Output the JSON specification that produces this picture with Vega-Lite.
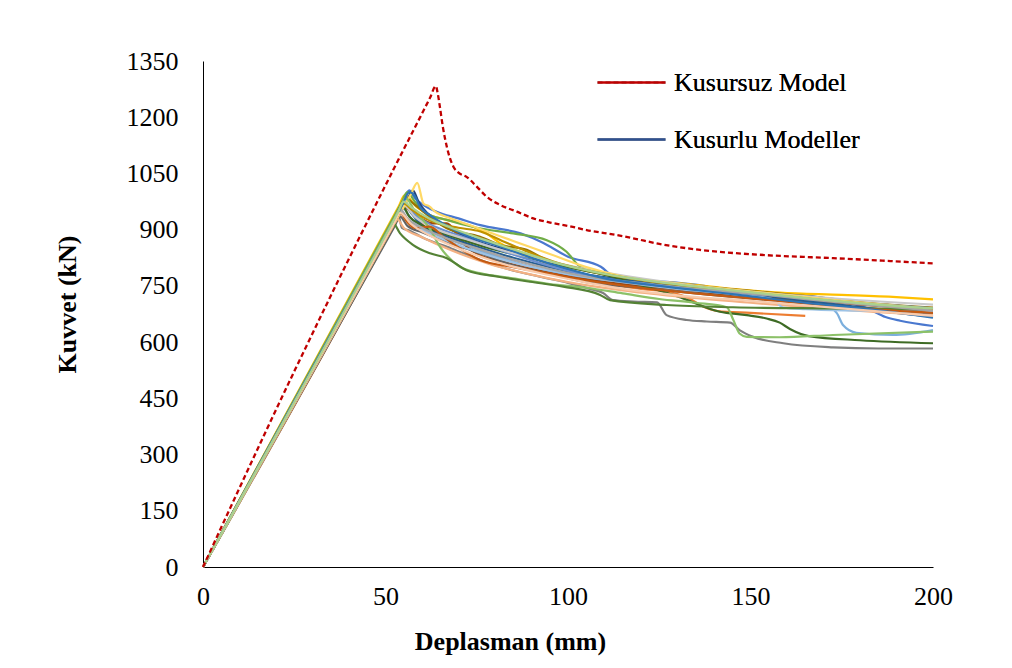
{
"$schema": "https://vega.github.io/schema/vega-lite/v6.json",
"width": 730, "height": 506,
"autosize": {"type": "none"},
"padding": {"left": 203, "top": 61, "right": 79, "bottom": 101},
"background": "white",
"config": {"view": {"stroke": null}, "font": "Liberation Serif", "legend": {"labelFont": "Liberation Serif", "labelFontSize": 26, "rowPadding": 8}},
"datasets": {
"pts": [
{"m":"K01","x":0,"y":0},{"m":"K01","x":56.5,"y":1005},{"m":"K01","x":58,"y":985},{"m":"K01","x":60,"y":968},{"m":"K01","x":64,"y":948},{"m":"K01","x":70,"y":930},{"m":"K01","x":76,"y":912},{"m":"K01","x":87,"y":890},{"m":"K01","x":93,"y":866},{"m":"K01","x":100,"y":828},{"m":"K01","x":109,"y":801},{"m":"K01","x":113,"y":772},{"m":"K01","x":120,"y":765},{"m":"K01","x":127,"y":761},{"m":"K01","x":136,"y":752},{"m":"K01","x":145,"y":735},{"m":"K01","x":155,"y":730},{"m":"K01","x":164,"y":726},{"m":"K01","x":173,"y":712},{"m":"K01","x":182,"y":690},{"m":"K01","x":187,"y":667},{"m":"K01","x":191,"y":657},{"m":"K01","x":200,"y":643},
{"m":"K02","x":0,"y":0},{"m":"K02","x":55,"y":975},{"m":"K02","x":57,"y":950},{"m":"K02","x":60,"y":915},{"m":"K02","x":66,"y":880},{"m":"K02","x":72,"y":860},{"m":"K02","x":80,"y":830},{"m":"K02","x":90,"y":800},{"m":"K02","x":100,"y":775},{"m":"K02","x":110,"y":755},{"m":"K02","x":120,"y":742},{"m":"K02","x":128,"y":733},{"m":"K02","x":133,"y":718},{"m":"K02","x":137,"y":695},{"m":"K02","x":141,"y":683},{"m":"K02","x":150,"y":678},{"m":"K02","x":165,"y":670},
{"m":"K03","x":0,"y":0},{"m":"K03","x":53.5,"y":940},{"m":"K03","x":54.5,"y":905},{"m":"K03","x":56.7,"y":897},{"m":"K03","x":60,"y":880},{"m":"K03","x":68,"y":850},{"m":"K03","x":80,"y":805},{"m":"K03","x":92,"y":775},{"m":"K03","x":100,"y":758},{"m":"K03","x":106,"y":742},{"m":"K03","x":109.6,"y":731},{"m":"K03","x":112.3,"y":712},{"m":"K03","x":118,"y":708},{"m":"K03","x":124.4,"y":706},{"m":"K03","x":127,"y":672},{"m":"K03","x":132.5,"y":659},{"m":"K03","x":138,"y":655},{"m":"K03","x":144.4,"y":652},{"m":"K03","x":147,"y":632},{"m":"K03","x":150.7,"y":614},{"m":"K03","x":159,"y":597},{"m":"K03","x":172.6,"y":586},{"m":"K03","x":185,"y":583},{"m":"K03","x":200,"y":583},
{"m":"K04","x":0,"y":0},{"m":"K04","x":55.3,"y":992},{"m":"K04","x":58.5,"y":961},{"m":"K04","x":62,"y":940},{"m":"K04","x":66.8,"y":926},{"m":"K04","x":74,"y":908},{"m":"K04","x":77.7,"y":890},{"m":"K04","x":81.4,"y":864},{"m":"K04","x":87.8,"y":837},{"m":"K04","x":94.2,"y":810},{"m":"K04","x":103.3,"y":775},{"m":"K04","x":115,"y":765},{"m":"K04","x":130.7,"y":757},{"m":"K04","x":145,"y":742},{"m":"K04","x":158,"y":732},{"m":"K04","x":175,"y":726},{"m":"K04","x":190,"y":720},{"m":"K04","x":200,"y":714},
{"m":"K05","x":0,"y":0},{"m":"K05","x":54.5,"y":960},{"m":"K05","x":57,"y":930},{"m":"K05","x":62,"y":900},{"m":"K05","x":70,"y":865},{"m":"K05","x":80,"y":830},{"m":"K05","x":90,"y":800},{"m":"K05","x":100,"y":780},{"m":"K05","x":115,"y":755},{"m":"K05","x":130,"y":740},{"m":"K05","x":145,"y":725},{"m":"K05","x":159,"y":712},{"m":"K05","x":170,"y":700},{"m":"K05","x":173.6,"y":678},{"m":"K05","x":175.4,"y":645},{"m":"K05","x":179,"y":625},{"m":"K05","x":189,"y":619},{"m":"K05","x":200,"y":632},
{"m":"K06","x":0,"y":0},{"m":"K06","x":56,"y":1000},{"m":"K06","x":58,"y":975},{"m":"K06","x":61,"y":945},{"m":"K06","x":66.8,"y":926},{"m":"K06","x":75,"y":905},{"m":"K06","x":85,"y":890},{"m":"K06","x":94.2,"y":872},{"m":"K06","x":99.6,"y":841},{"m":"K06","x":103.3,"y":801},{"m":"K06","x":108.8,"y":783},{"m":"K06","x":120,"y":765},{"m":"K06","x":135,"y":745},{"m":"K06","x":150,"y":728},{"m":"K06","x":170,"y":712},{"m":"K06","x":185,"y":700},{"m":"K06","x":200,"y":690},
{"m":"K07","x":0,"y":0},{"m":"K07","x":57.5,"y":1005},{"m":"K07","x":59,"y":975},{"m":"K07","x":63,"y":930},{"m":"K07","x":68,"y":900},{"m":"K07","x":75,"y":870},{"m":"K07","x":85,"y":840},{"m":"K07","x":95,"y":810},{"m":"K07","x":105,"y":780},{"m":"K07","x":115,"y":760},{"m":"K07","x":130,"y":745},{"m":"K07","x":145,"y":730},{"m":"K07","x":160,"y":715},{"m":"K07","x":175,"y":695},{"m":"K07","x":190,"y":678},{"m":"K07","x":200,"y":668},
{"m":"K08","x":0,"y":0},{"m":"K08","x":55,"y":960},{"m":"K08","x":57.5,"y":944},{"m":"K08","x":63,"y":917},{"m":"K08","x":66.8,"y":917},{"m":"K08","x":69.5,"y":890},{"m":"K08","x":72.2,"y":855},{"m":"K08","x":75.9,"y":832},{"m":"K08","x":82,"y":815},{"m":"K08","x":90,"y":795},{"m":"K08","x":100,"y":775},{"m":"K08","x":110,"y":760},{"m":"K08","x":125,"y":745},{"m":"K08","x":140,"y":730},{"m":"K08","x":160,"y":715},{"m":"K08","x":180,"y":700},{"m":"K08","x":200,"y":686},
{"m":"K09","x":0,"y":0},{"m":"K09","x":54,"y":935},{"m":"K09","x":56,"y":910},{"m":"K09","x":60,"y":893},{"m":"K09","x":66,"y":870},{"m":"K09","x":75,"y":840},{"m":"K09","x":85,"y":805},{"m":"K09","x":95,"y":782},{"m":"K09","x":105,"y":760},{"m":"K09","x":120,"y":745},{"m":"K09","x":140,"y":725},{"m":"K09","x":160,"y":708},{"m":"K09","x":180,"y":692},{"m":"K09","x":200,"y":680},
{"m":"K10","x":0,"y":0},{"m":"K10","x":55.5,"y":985},{"m":"K10","x":57.5,"y":971},{"m":"K10","x":62,"y":935},{"m":"K10","x":66.8,"y":904},{"m":"K10","x":75.9,"y":881},{"m":"K10","x":81.4,"y":859},{"m":"K10","x":88.7,"y":846},{"m":"K10","x":92.3,"y":828},{"m":"K10","x":98,"y":805},{"m":"K10","x":105,"y":790},{"m":"K10","x":115,"y":772},{"m":"K10","x":130,"y":755},{"m":"K10","x":150,"y":737},{"m":"K10","x":170,"y":718},{"m":"K10","x":185,"y":702},{"m":"K10","x":200,"y":692},
{"m":"K11","x":0,"y":0},{"m":"K11","x":55,"y":975},{"m":"K11","x":57,"y":945},{"m":"K11","x":60,"y":912},{"m":"K11","x":66,"y":885},{"m":"K11","x":75,"y":855},{"m":"K11","x":85,"y":825},{"m":"K11","x":95,"y":800},{"m":"K11","x":105,"y":780},{"m":"K11","x":120,"y":762},{"m":"K11","x":135,"y":745},{"m":"K11","x":150,"y":728},{"m":"K11","x":170,"y":705},{"m":"K11","x":185,"y":688},{"m":"K11","x":200,"y":675},
{"m":"K12","x":0,"y":0},{"m":"K12","x":54.5,"y":965},{"m":"K12","x":56.5,"y":935},{"m":"K12","x":60,"y":912},{"m":"K12","x":66,"y":890},{"m":"K12","x":72,"y":870},{"m":"K12","x":78,"y":852},{"m":"K12","x":84,"y":837},{"m":"K12","x":95,"y":812},{"m":"K12","x":104,"y":792},{"m":"K12","x":110,"y":780},{"m":"K12","x":120,"y":752},{"m":"K12","x":130,"y":722},{"m":"K12","x":141.6,"y":681},{"m":"K12","x":149,"y":672},{"m":"K12","x":154.4,"y":663},{"m":"K12","x":158,"y":652},{"m":"K12","x":160.8,"y":635},{"m":"K12","x":166,"y":616},{"m":"K12","x":180,"y":605},{"m":"K12","x":200,"y":597},
{"m":"K13","x":0,"y":0},{"m":"K13","x":55,"y":970},{"m":"K13","x":58,"y":940},{"m":"K13","x":62,"y":915},{"m":"K13","x":70,"y":885},{"m":"K13","x":80,"y":850},{"m":"K13","x":90,"y":818},{"m":"K13","x":100,"y":790},{"m":"K13","x":110,"y":770},{"m":"K13","x":125,"y":752},{"m":"K13","x":140,"y":738},{"m":"K13","x":160,"y":722},{"m":"K13","x":180,"y":705},{"m":"K13","x":200,"y":690},
{"m":"K14","x":0,"y":0},{"m":"K14","x":53,"y":930},{"m":"K14","x":55,"y":905},{"m":"K14","x":60,"y":880},{"m":"K14","x":68,"y":845},{"m":"K14","x":78,"y":810},{"m":"K14","x":90,"y":780},{"m":"K14","x":100,"y":760},{"m":"K14","x":115,"y":738},{"m":"K14","x":130,"y":722},{"m":"K14","x":150,"y":705},{"m":"K14","x":170,"y":690},{"m":"K14","x":185,"y":680},{"m":"K14","x":200,"y":672},
{"m":"K15","x":0,"y":0},{"m":"K15","x":55,"y":965},{"m":"K15","x":58,"y":935},{"m":"K15","x":63,"y":905},{"m":"K15","x":72,"y":875},{"m":"K15","x":82,"y":845},{"m":"K15","x":95,"y":815},{"m":"K15","x":105,"y":795},{"m":"K15","x":120,"y":770},{"m":"K15","x":135,"y":750},{"m":"K15","x":150,"y":735},{"m":"K15","x":175,"y":715},{"m":"K15","x":200,"y":700},
{"m":"K16","x":0,"y":0},{"m":"K16","x":58.7,"y":1025},{"m":"K16","x":60.4,"y":970},{"m":"K16","x":62,"y":962},{"m":"K16","x":63.6,"y":948},{"m":"K16","x":68,"y":930},{"m":"K16","x":75,"y":905},{"m":"K16","x":85,"y":870},{"m":"K16","x":95,"y":835},{"m":"K16","x":105,"y":800},{"m":"K16","x":115,"y":775},{"m":"K16","x":130,"y":755},{"m":"K16","x":150,"y":735},{"m":"K16","x":175,"y":710},{"m":"K16","x":200,"y":688},
{"m":"K17","x":0,"y":0},{"m":"K17","x":54,"y":950},{"m":"K17","x":56,"y":925},{"m":"K17","x":60,"y":900},{"m":"K17","x":67,"y":870},{"m":"K17","x":77,"y":835},{"m":"K17","x":88,"y":805},{"m":"K17","x":100,"y":782},{"m":"K17","x":115,"y":760},{"m":"K17","x":130,"y":742},{"m":"K17","x":145,"y":728},{"m":"K17","x":156,"y":715},{"m":"K17","x":159,"y":692},{"m":"K17","x":165,"y":688},{"m":"K17","x":180,"y":684},{"m":"K17","x":200,"y":680},
{"m":"K18","x":0,"y":0},{"m":"K18","x":55.5,"y":985},{"m":"K18","x":58,"y":950},{"m":"K18","x":62,"y":905},{"m":"K18","x":64.9,"y":855},{"m":"K18","x":70.4,"y":801},{"m":"K18","x":75.9,"y":784},{"m":"K18","x":85,"y":770},{"m":"K18","x":95,"y":755},{"m":"K18","x":105,"y":745},{"m":"K18","x":115,"y":730},{"m":"K18","x":125,"y":715},{"m":"K18","x":135,"y":705},{"m":"K18","x":143.5,"y":693},{"m":"K18","x":145.3,"y":659},{"m":"K18","x":147,"y":623},{"m":"K18","x":149,"y":614},{"m":"K18","x":158,"y":613},{"m":"K18","x":172.6,"y":619},{"m":"K18","x":200,"y":628},
{"m":"K19","x":0,"y":0},{"m":"K19","x":52.1,"y":917},{"m":"K19","x":54,"y":890},{"m":"K19","x":57.6,"y":859},{"m":"K19","x":62.2,"y":837},{"m":"K19","x":66.8,"y":824},{"m":"K19","x":72.2,"y":792},{"m":"K19","x":80.5,"y":775},{"m":"K19","x":89.6,"y":761},{"m":"K19","x":98.7,"y":748},{"m":"K19","x":108.8,"y":726},{"m":"K19","x":111.5,"y":712},{"m":"K19","x":127,"y":699},{"m":"K19","x":145.2,"y":693},{"m":"K19","x":170,"y":690},{"m":"K19","x":200,"y":688},
{"m":"K20","x":0,"y":0},{"m":"K20","x":54,"y":945},{"m":"K20","x":56,"y":920},{"m":"K20","x":58,"y":905},{"m":"K20","x":62,"y":908},{"m":"K20","x":66,"y":880},{"m":"K20","x":75.9,"y":819},{"m":"K20","x":85,"y":800},{"m":"K20","x":94.2,"y":784},{"m":"K20","x":105,"y":765},{"m":"K20","x":120,"y":745},{"m":"K20","x":140,"y":725},{"m":"K20","x":160,"y":708},{"m":"K20","x":180,"y":690},{"m":"K20","x":200,"y":678},
{"m":"K21","x":0,"y":0},{"m":"K21","x":55,"y":970},{"m":"K21","x":57,"y":955},{"m":"K21","x":60,"y":935},{"m":"K21","x":65,"y":915},{"m":"K21","x":70,"y":905},{"m":"K21","x":76,"y":895},{"m":"K21","x":82,"y":870},{"m":"K21","x":88,"y":845},{"m":"K21","x":96,"y":815},{"m":"K21","x":106,"y":790},{"m":"K21","x":120,"y":765},{"m":"K21","x":140,"y":742},{"m":"K21","x":160,"y":722},{"m":"K21","x":180,"y":703},{"m":"K21","x":200,"y":688},
{"m":"K22","x":0,"y":0},{"m":"K22","x":54,"y":955},{"m":"K22","x":56,"y":930},{"m":"K22","x":60,"y":905},{"m":"K22","x":66,"y":880},{"m":"K22","x":75,"y":850},{"m":"K22","x":85,"y":820},{"m":"K22","x":95,"y":795},{"m":"K22","x":105,"y":775},{"m":"K22","x":118,"y":758},{"m":"K22","x":135,"y":742},{"m":"K22","x":155,"y":725},{"m":"K22","x":175,"y":705},{"m":"K22","x":200,"y":684},
{"m":"K23","x":0,"y":0},{"m":"K23","x":56.5,"y":1000},{"m":"K23","x":58,"y":990},{"m":"K23","x":59.5,"y":960},{"m":"K23","x":62,"y":940},{"m":"K23","x":66,"y":915},{"m":"K23","x":72,"y":885},{"m":"K23","x":80,"y":860},{"m":"K23","x":90,"y":825},{"m":"K23","x":100,"y":795},{"m":"K23","x":110,"y":770},{"m":"K23","x":125,"y":750},{"m":"K23","x":145,"y":728},{"m":"K23","x":165,"y":705},{"m":"K23","x":185,"y":685},{"m":"K23","x":200,"y":665},
{"m":"K24","x":0,"y":0},{"m":"K24","x":54,"y":945},{"m":"K24","x":57,"y":915},{"m":"K24","x":62,"y":885},{"m":"K24","x":70,"y":850},{"m":"K24","x":80,"y":815},{"m":"K24","x":92,"y":785},{"m":"K24","x":102,"y":765},{"m":"K24","x":115,"y":742},{"m":"K24","x":130,"y":725},{"m":"K24","x":150,"y":710},{"m":"K24","x":175,"y":690},{"m":"K24","x":200,"y":670},
{"m":"K25","x":0,"y":0},{"m":"K25","x":55,"y":975},{"m":"K25","x":57,"y":960},{"m":"K25","x":62,"y":930},{"m":"K25","x":68,"y":905},{"m":"K25","x":78,"y":870},{"m":"K25","x":88,"y":838},{"m":"K25","x":98,"y":808},{"m":"K25","x":110,"y":782},{"m":"K25","x":125,"y":760},{"m":"K25","x":145,"y":738},{"m":"K25","x":165,"y":718},{"m":"K25","x":185,"y":700},{"m":"K25","x":200,"y":690},
{"m":"K01","x":54.8,"y":975},{"m":"K02","x":53.4,"y":946},{"m":"K03","x":51.9,"y":912},{"m":"K04","x":53.6,"y":962},{"m":"K05","x":52.9,"y":931},{"m":"K06","x":54.3,"y":970},{"m":"K07","x":55.8,"y":975},{"m":"K08","x":53.4,"y":931},{"m":"K09","x":52.4,"y":907},{"m":"K10","x":53.8,"y":955},{"m":"K11","x":53.4,"y":946},{"m":"K12","x":52.9,"y":936},{"m":"K13","x":53.4,"y":941},{"m":"K14","x":51.4,"y":902},{"m":"K15","x":53.4,"y":936},{"m":"K16","x":56.9,"y":994},{"m":"K17","x":52.4,"y":922},{"m":"K18","x":53.8,"y":955},{"m":"K19","x":50.5,"y":889},{"m":"K20","x":52.4,"y":917},{"m":"K21","x":53.4,"y":941},{"m":"K22","x":52.4,"y":926},{"m":"K23","x":54.8,"y":970},{"m":"K24","x":52.4,"y":917},{"m":"K25","x":53.4,"y":946},
{"m":"Kusursuz Model","x":0,"y":0},{"m":"Kusursuz Model","x":25.2,"y":526},{"m":"Kusursuz Model","x":52.1,"y":1059},{"m":"Kusursuz Model","x":62.2,"y":1252},{"m":"Kusursuz Model","x":63.8,"y":1283},{"m":"Kusursuz Model","x":64.3,"y":1264},{"m":"Kusursuz Model","x":64.9,"y":1228},{"m":"Kusursuz Model","x":65.7,"y":1175},{"m":"Kusursuz Model","x":66.8,"y":1121},{"m":"Kusursuz Model","x":68.6,"y":1068},{"m":"Kusursuz Model","x":70,"y":1052},{"m":"Kusursuz Model","x":72.2,"y":1041},{"m":"Kusursuz Model","x":75,"y":1015},{"m":"Kusursuz Model","x":77.7,"y":988},{"m":"Kusursuz Model","x":81.4,"y":966},{"m":"Kusursuz Model","x":86,"y":948},{"m":"Kusursuz Model","x":90.5,"y":930},{"m":"Kusursuz Model","x":95.1,"y":919},{"m":"Kusursuz Model","x":100,"y":910},{"m":"Kusursuz Model","x":105.1,"y":899},{"m":"Kusursuz Model","x":114.2,"y":884},{"m":"Kusursuz Model","x":117.8,"y":877},{"m":"Kusursuz Model","x":125,"y":862},{"m":"Kusursuz Model","x":136.2,"y":846},{"m":"Kusursuz Model","x":154.4,"y":832},{"m":"Kusursuz Model","x":172.6,"y":824},{"m":"Kusursuz Model","x":185,"y":818},{"m":"Kusursuz Model","x":200,"y":810}
]},
"data": {"name": "pts"},
"encoding": {
  "x": {"field": "x", "type": "quantitative", "scale": {"domain": [0, 200], "nice": false},
    "axis": {"title": "Deplasman (mm)", "values": [0, 50, 100, 150, 200], "format": "d", "grid": false, "ticks": false, "tickSize": 0, "labelFlush": false,
      "labelFont": "Liberation Serif", "labelFontSize": 26, "labelColor": "#000000", "labelPadding": 16,
      "domainColor": "#000000", "domainWidth": 1,
      "titleFont": "Liberation Serif", "titleFontSize": 26, "titleFontWeight": "bold", "titleColor": "#000000",
      "titleX": 307, "titleY": 82, "titleBaseline": "alphabetic", "titleAlign": "center"}},
  "y": {"field": "y", "type": "quantitative", "scale": {"domain": [0, 1350], "nice": false},
    "axis": {"title": "Kuvvet (kN)", "values": [0, 150, 300, 450, 600, 750, 900, 1050, 1200, 1350], "format": "d", "grid": false, "ticks": false, "tickSize": 0, "labelFlush": false,
      "labelFont": "Liberation Serif", "labelFontSize": 26, "labelColor": "#000000", "labelPadding": 25,
      "domainColor": "#000000", "domainWidth": 1,
      "titleFont": "Liberation Serif", "titleFontSize": 26, "titleFontWeight": "bold", "titleColor": "#000000",
      "titleAngle": -90, "titleX": -136, "titleY": 243, "titleBaseline": "middle", "titleAlign": "center"}}
},
"layer": [
  {"transform": [{"filter": "datum.m != 'Kusursuz Model'"}],
   "mark": {"type": "line", "strokeWidth": 2.2, "interpolate": "monotone"},
   "encoding": {"color": {"field": "m", "type": "nominal", "legend": null,
     "scale": {"range": ["#4A78CF","#ED7D31","#7F7F7F","#FFC000","#7CAFDD","#70AD47","#264478","#9E480E","#636363","#997300","#255E91","#3E6B25","#698ED0","#F4B183","#C9C9C9","#FFD966","#9DC3E6","#8CC168","#548235","#C55A11","#BF9000","#A5A5A5","#2E75B6","#F8CBAD","#A9D18E"]}}}},
  {"transform": [{"filter": "datum.m == 'Kusursuz Model'"}],
   "mark": {"type": "line", "strokeWidth": 2.3, "interpolate": "monotone"},
   "encoding": {
     "color": {"field": "m", "type": "nominal",
       "scale": {"domain": ["Kusursuz Model", "Kusurlu Modeller"], "range": ["#C00000", "#2F5190"]},
       "legend": {"orient": "none", "legendX": 393, "legendY": -14, "title": null, "symbolType": "stroke", "symbolSize": 4624, "symbolStrokeWidth": 2.3, "labelFont": "Liberation Serif", "labelFontSize": 26, "labelColor": "#000000", "labelOffset": 7, "rowPadding": 8, "padding": 0, "labelLimit": 400}},
     "strokeDash": {"field": "m", "type": "nominal",
       "scale": {"domain": ["Kusursuz Model", "Kusurlu Modeller"], "range": [[5, 3], [1, 0]]},
       "legend": {"orient": "none", "legendX": 393, "legendY": -14, "title": null, "symbolType": "stroke", "symbolSize": 4624, "symbolStrokeWidth": 2.3, "labelFont": "Liberation Serif", "labelFontSize": 26, "labelColor": "#000000", "labelOffset": 7, "rowPadding": 8, "padding": 0, "labelLimit": 400}}}}
],
"resolve": {"scale": {"color": "independent"}}
}
